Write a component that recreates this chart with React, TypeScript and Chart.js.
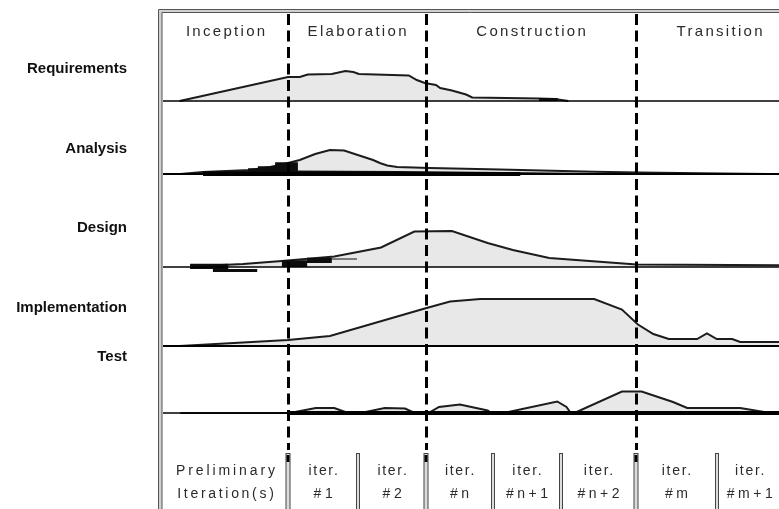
import React, { useEffect, useRef } from "react";
import { Chart, registerables } from "chart.js";

Chart.register(...registerables);

// ---------- data (x = % of project time, y = relative effort) ----------
const PHASES = ["Inception", "Elaboration", "Construction", "Transition"];
const PHASE_BOUNDS = [0, 20.3, 42.7, 76.8, 103.9];
const WORKFLOWS = ["Requirements", "Analysis", "Design", "Implementation", "Test"];

const REQ_X = [2.7, 20.3, 22.2, 23.5, 27.4, 29.6, 30.9, 31.8, 39.9, 41.2, 42.5, 44.3, 45.0, 46.9, 49.2, 50.2, 61.0, 63.6, 65.8];
const REQ_Y = [0, 24, 24, 26.5, 27, 30, 29, 27, 25.5, 21, 18, 16, 13, 10.5, 6.5, 3.5, 2.5, 2, 0];
const REQ_BLOCK_X = [61.0, 64.1];
const REQ_BLOCK_Y = [3, 0];

const ANA_X = [2.8, 6.5, 14.1, 17.4, 20.3, 22.2, 24.7, 27.1, 29.4, 34.1, 35.2, 36.4, 38.0, 43.3, 54.7, 70.0, 77.4, 87.2, 98.2];
const ANA_Y = [0, 2, 4, 7, 11, 14, 20, 24, 23.5, 14, 11, 8.5, 7, 6, 4.5, 2.3, 1.5, 0.8, 0];
const ANA_STEP_X = [6.5, 13.8, 15.4, 18.2, 21.9];
const ANA_STEP_Y = [3, 5.7, 7.7, 11.7, 0];
const ANA_WEDGE_X = [20.3, 38.0, 55.0, 70.0, 80.0, 98.0];
const ANA_WEDGE_Y = [3.5, 3, 2, 1, 0.6, 0];

const DES_X = [4.4, 13.0, 19.3, 27.8, 35.4, 40.8, 46.9, 52.7, 56.8, 62.7, 76.9, 100];
const DES_Y = [0.5, 3, 6, 10.5, 19.5, 35.5, 36, 24, 17, 9, 2.5, 1.8];
const DES_BLOCK_X = [4.4, 8.1, 10.6, 15.3, 19.3, 23.4, 27.4, 31.5];
const DES_BLOCK_TOP = [3.3, 3.3, -2, 0, 6.7, 9.3, 8.5, 8.5];
const DES_BLOCK_BOTTOM = [-2, -6, -6, 0, 0, 4, 7.5, 7.5];

const IMP_X = [2.7, 20.3, 27.1, 42.5, 46.6, 51.5, 70.0, 74.5, 77.1, 79.6, 82.1, 86.7, 88.3, 89.9, 92.4, 93.7, 100];
const IMP_Y = [0, 6, 10, 37.5, 44.5, 47, 47, 36.5, 21.5, 12, 7, 7, 12.5, 7, 7, 4, 4];

const TEST_X = [2.8, 20.3, 20.6, 24.8, 27.8, 29.6, 30.0, 32.1, 36.0, 39.3, 40.5, 40.9, 43.1, 44.8, 48.2, 52.7, 53.3, 55.3, 64.0, 65.5, 66.2, 66.8, 74.5, 77.7, 82.8, 85.1, 93.7, 97.6, 100];
const TEST_Y = [0, 0, 0, 5, 5, 1, 0, 0, 5, 4.5, 1, 0, 0, 6, 8.5, 2.5, 0, 0, 11.5, 6, 0, 0, 21.5, 21.5, 11, 5, 5, 1, 0];

const ITER_LINE1 = ["Preliminary", "iter.", "iter.", "iter.", "iter.", "iter.", "iter.", "iter."];
const ITER_LINE2 = ["Iteration(s)", "#1", "#2", "#n", "#n+1", "#n+2", "#m", "#m+1"];
const ITER_BOUNDS = [0, 20.3, 31.7, 42.7, 53.6, 64.6, 76.8, 89.9, 100.6];

// ---------- layout / style ----------
const ROW_IDS = ["yReq", "yAna", "yDes", "yImp", "yTest"];
const ROW_RANGE = [
  { min: -3, max: 90 },
  { min: -3, max: 70 },
  { min: -5, max: 90 },
  { min: -3, max: 74 },
  { min: -3, max: 64 },
];
const ROW_LABEL_BASE_PX = [73, 153, 232, 312, 361];
const BASE_W = [1.5, 2, 1.5, 2, 1.5];
const THICK_SEGS = [
  { row: 1, from: 6.5, to: 58 },
  { row: 4, from: 20.3, to: 100 },
];
const FILL = "#e8e8e8";
const EDGE = "#1c1c1c";

const pts = (xs: number[], ys: number[]) => xs.map((x, i) => ({ x, y: ys[i] }));

const overlay = {
  id: "rupOverlay",
  afterDatasetsDraw(chart: any) {
    const ctx: CanvasRenderingContext2D = chart.ctx;
    const xs = chart.scales.x;
    const area = chart.chartArea;
    const px = (v: number) => xs.getPixelForValue(v);
    ctx.save();

    // baselines
    ROW_IDS.forEach((id, i) => {
      const y = chart.scales[id].getPixelForValue(0);
      ctx.strokeStyle = "#000";
      ctx.lineWidth = BASE_W[i];
      ctx.beginPath();
      ctx.moveTo(area.left, y);
      ctx.lineTo(area.right, y);
      ctx.stroke();
    });
    THICK_SEGS.forEach((s) => {
      const y = chart.scales[ROW_IDS[s.row]].getPixelForValue(0);
      ctx.strokeStyle = "#000";
      ctx.lineWidth = 4;
      ctx.beginPath();
      ctx.moveTo(px(s.from), y);
      ctx.lineTo(Math.min(px(s.to), area.right), y);
      ctx.stroke();
    });

    // frame
    ctx.fillStyle = "#d0d0d0";
    ctx.fillRect(158.5, 10, 3.5, chart.height - 10);
    ctx.fillRect(158.5, 10, chart.width - 158.5, 2.5);
    ctx.strokeStyle = "#555";
    ctx.lineWidth = 1;
    ctx.beginPath();
    ctx.moveTo(158.5, chart.height);
    ctx.lineTo(158.5, 9.5);
    ctx.lineTo(chart.width, 9.5);
    ctx.moveTo(162, chart.height);
    ctx.lineTo(162, 12.5);
    ctx.lineTo(chart.width, 12.5);
    ctx.stroke();

    // dashed phase boundaries
    ctx.strokeStyle = "#000";
    ctx.lineWidth = 3;
    ctx.setLineDash([11, 5.5]);
    PHASE_BOUNDS.slice(1, -1).forEach((b) => {
      const x = Math.round(px(b)) + 0.5;
      ctx.beginPath();
      ctx.moveTo(x, 14);
      ctx.lineTo(x, 450);
      ctx.stroke();
    });
    ctx.setLineDash([]);

    // iteration separators
    const footTop = 453;
    ITER_BOUNDS.slice(1, -1).forEach((b) => {
      const x = Math.round(px(b));
      const isPhase = PHASE_BOUNDS.some((p) => Math.abs(p - b) < 0.01);
      const w = isPhase ? 4 : 3;
      ctx.fillStyle = "#dcdcdc";
      ctx.fillRect(x - w / 2, footTop, w, chart.height - footTop);
      ctx.strokeStyle = "#444";
      ctx.lineWidth = 1;
      ctx.strokeRect(x - w / 2, footTop + 0.5, w, chart.height - footTop + 2);
      if (isPhase) {
        ctx.fillStyle = "#000";
        ctx.fillRect(x - w / 2 + 0.5, footTop + 2, w - 1, 7);
      }
    });

    // header text
    const spaced = (t: string, cx: number, y: number, sp: number) => {
      (ctx as any).letterSpacing = sp + "px";
      ctx.fillText(t, cx + sp / 2, y);
      (ctx as any).letterSpacing = "0px";
    };
    ctx.fillStyle = "#2b2b2b";
    ctx.textAlign = "center";
    ctx.textBaseline = "alphabetic";
    ctx.font = '15px "Liberation Sans", Arial, sans-serif';
    PHASES.forEach((p, i) => {
      const cx = (px(PHASE_BOUNDS[i]) + px(PHASE_BOUNDS[i + 1])) / 2;
      spaced(p, cx, 36, 2.3);
    });

    // footer text
    ctx.font = '14px "Liberation Sans", Arial, sans-serif';
    ITER_LINE1.forEach((t, i) => {
      const cx = (px(ITER_BOUNDS[i]) + px(ITER_BOUNDS[i + 1])) / 2;
      spaced(t, cx, 475, i === 0 ? 2.9 : 1.7);
      spaced(ITER_LINE2[i], cx, 498, i === 0 ? 2.7 : 3.5);
    });

    // row labels
    ctx.fillStyle = "#111";
    ctx.textAlign = "right";
    ctx.font = 'bold 15px "Liberation Sans", Arial, sans-serif';
    WORKFLOWS.forEach((w, i) => {
      ctx.fillText(w, 127, ROW_LABEL_BASE_PX[i]);
    });

    ctx.restore();
  },
};

export default function App() {
  const ref = useRef<HTMLCanvasElement | null>(null);

  useEffect(() => {
    if (!ref.current) return;
    const curve = (label: string, yAxisID: string, data: any[]) => ({
      label,
      yAxisID,
      data,
      fill: "origin",
      backgroundColor: FILL,
      borderColor: EDGE,
      borderWidth: 2,
      pointRadius: 0,
      tension: 0,
    });
    const block = (label: string, yAxisID: string, data: any[], fill: any, stepped: any) => ({
      label,
      yAxisID,
      data,
      fill,
      stepped,
      backgroundColor: "#0d0d0d",
      borderColor: "rgba(0,0,0,0)",
      borderWidth: 0,
      pointRadius: 0,
      tension: 0,
    });

    const datasets: any[] = [
      block("Requirements (detail)", "yReq", pts(REQ_BLOCK_X, REQ_BLOCK_Y), "origin", true),
      curve("Requirements", "yReq", pts(REQ_X, REQ_Y)),
      block("Analysis (steps)", "yAna", pts(ANA_STEP_X, ANA_STEP_Y), "origin", true),
      block("Analysis (tail)", "yAna", pts(ANA_WEDGE_X, ANA_WEDGE_Y), "origin", false),
      curve("Analysis", "yAna", pts(ANA_X, ANA_Y)),
      block("Design (blocks)", "yDes", pts(DES_BLOCK_X, DES_BLOCK_TOP), "+1", true),
      block("Design (blocks low)", "yDes", pts(DES_BLOCK_X, DES_BLOCK_BOTTOM), false, true),
      curve("Design", "yDes", pts(DES_X, DES_Y)),
      curve("Implementation", "yImp", pts(IMP_X, IMP_Y)),
      curve("Test", "yTest", pts(TEST_X, TEST_Y)),
    ];

    const scales: any = {
      x: { type: "linear", min: 0, max: 100, display: false },
    };
    ROW_IDS.forEach((id, i) => {
      scales[id] = {
        type: "linear",
        position: "left",
        stack: "rows",
        stackWeight: ROW_RANGE[i].max - ROW_RANGE[i].min,
        weight: ROW_IDS.length - i,
        min: ROW_RANGE[i].min,
        max: ROW_RANGE[i].max,
        display: false,
      };
    });

    const chart = new Chart(ref.current, {
      type: "line",
      data: { datasets },
      options: {
        animation: false,
        responsive: true,
        maintainAspectRatio: false,
        parsing: true as any,
        layout: { padding: { left: 163, right: 0, top: 11, bottom: 93 } },
        scales,
        plugins: {
          legend: { display: false },
          tooltip: { enabled: false },
        },
        events: [],
      } as any,
      plugins: [overlay],
    });
    return () => chart.destroy();
  }, []);

  return (
    <div style={{ position: "fixed", left: 0, top: 0, width: 779, height: 509, background: "#fff" }}>
      <canvas ref={ref} />
    </div>
  );
}
